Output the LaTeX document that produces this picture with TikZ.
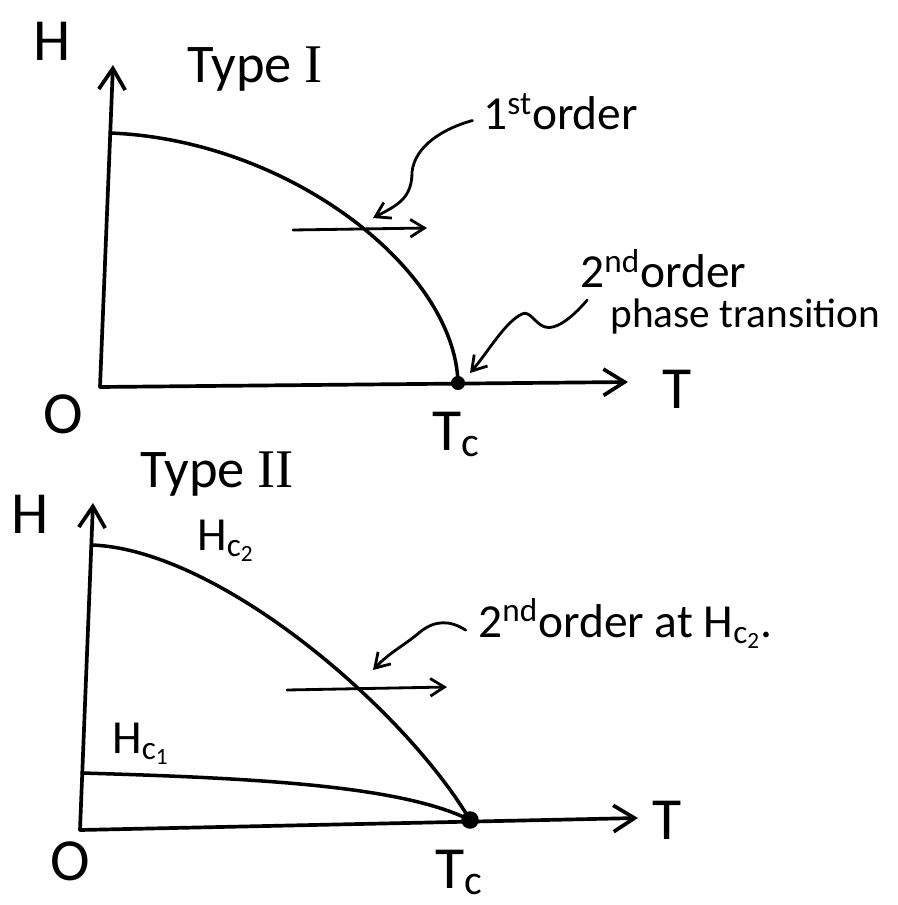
\documentclass[tikz,border=0pt]{standalone}
\usepackage{fontspec}
\setmainfont{Carlito}
\newfontfamily\romfont{Liberation Serif}
\usetikzlibrary{arrows.meta}
\newcommand{\hcrit}[1]{H\textsubscript{c\textsubscript{#1}}}
\tikzset{
  axis/.style={-{Straight Barb[length=12pt,width=15pt]},line width=2.1pt,line cap=round,line join=round},
  bound/.style={line width=2pt,line cap=round},
  arr/.style={-{Straight Barb[length=8pt,width=10pt]},line width=1.6pt,line cap=round,line join=round},
  axlbl/.style={font=\fontsize{34}{38}\selectfont,inner sep=0pt},
  lbl/.style={font=\fontsize{27}{30}\selectfont,inner sep=0pt,anchor=base west},
  ttl/.style={font=\fontsize{31}{34}\selectfont,inner sep=0pt,anchor=base west},
}
\begin{document}
\begin{tikzpicture}[x=0.02cm,y=-0.02cm]
  \useasboundingbox (0,0) rectangle (898,905);
  % Type I
  \coordinate (orgA) at (100,387);
  \coordinate (hTipA) at (113,65);
  \coordinate (tTipA) at (628,382);
  \coordinate (hcA) at (110,133);
  \coordinate (tcA) at (458,383);
  \coordinate (runA) at (293,230);
  \coordinate (runEndA) at (427,228);
  \coordinate (leadEndA) at (373,218);
  \coordinate (leadEndB) at (470,373);
  \node[axlbl] (hLblA) at (52,41) {H};
  \node[axlbl] (oLblA) at (63,414) {O};
  \node[axlbl] (tLblA) at (677,389) {T};
  \node[lbl,font=\fontsize{34}{38}\selectfont] (tcLblA) at (432,450) {T\textsubscript{c}};
  \node[ttl] (typeOne) at (187,83) {Type {\romfont I}};
  \node[lbl] (firstOrd) at (483,130) {1\textsuperscript{st}order};
  \node[lbl] (secondOrdA) at (580,288) {2\textsuperscript{nd}order};
  \node[lbl,font=\fontsize{23.5}{26}\selectfont] (secondOrdB) at (610,327) {phase transition};
  \draw[axis] (orgA) -- (hTipA);
  \draw[axis] (orgA) -- (tTipA);
  \draw[bound] (hcA) .. controls (290,140) and (455,270) .. (tcA);
  \fill (tcA) circle[radius=4pt];
  \draw[arr] (runA) -- (runEndA);
  \draw[arr] ([xshift=-6pt,yshift=-5pt]firstOrd.west) .. controls (445,128) and (415,145) .. (412,172) .. controls (412,198) and (398,205) .. (leadEndA);
  \draw[arr] ([xshift=-13pt,yshift=9pt]secondOrdB.west) .. controls (570,320) and (555,330) .. (545,327) .. controls (535,324) and (530,310) .. (522,314) .. controls (505,322) and (488,352) .. (leadEndB);
  % Type II
  \coordinate (orgB) at (80,830);
  \coordinate (hTipB) at (93,503);
  \coordinate (tTipB) at (638,818);
  \coordinate (hcTwoA) at (92,545);
  \coordinate (hcOneA) at (82,773);
  \coordinate (tcB) at (470,820);
  \coordinate (runB) at (287,690);
  \coordinate (runEndB) at (447,687);
  \coordinate (leadEndC) at (373,670);
  \node[axlbl] (hLblB) at (30,514) {H};
  \node[axlbl] (oLblB) at (70,861) {O};
  \node[axlbl] (tLblB) at (667,820) {T};
  \node[lbl,font=\fontsize{34}{38}\selectfont] (tcLblB) at (435,888) {T\textsubscript{c}};
  \node[ttl] (typeTwo) at (140,487) {Type {\romfont II}};
  \node[lbl] (hcTwoLbl) at (197,550) {\hcrit{2}};
  \node[lbl] (hcOneLbl) at (112,753) {\hcrit{1}};
  \node[lbl] (secondAt) at (478,637) {2\textsuperscript{nd}order at \hcrit{2}.};
  \draw[axis] (orgB) -- (hTipB);
  \draw[axis] (orgB) -- (tTipB);
  \draw[bound] (hcTwoA) .. controls (220,550) and (405,710) .. (tcB);
  \draw[bound] (hcOneA) .. controls (250,778) and (400,785) .. (tcB);
  \fill (tcB) circle[radius=5pt];
  \draw[arr] (runB) -- (runEndB);
  \draw[arr] ([xshift=-7pt,yshift=-4pt]secondAt.west) .. controls (450,620) and (435,620) .. (420,632) .. controls (405,645) and (390,652) .. (leadEndC);
\end{tikzpicture}
\end{document}
